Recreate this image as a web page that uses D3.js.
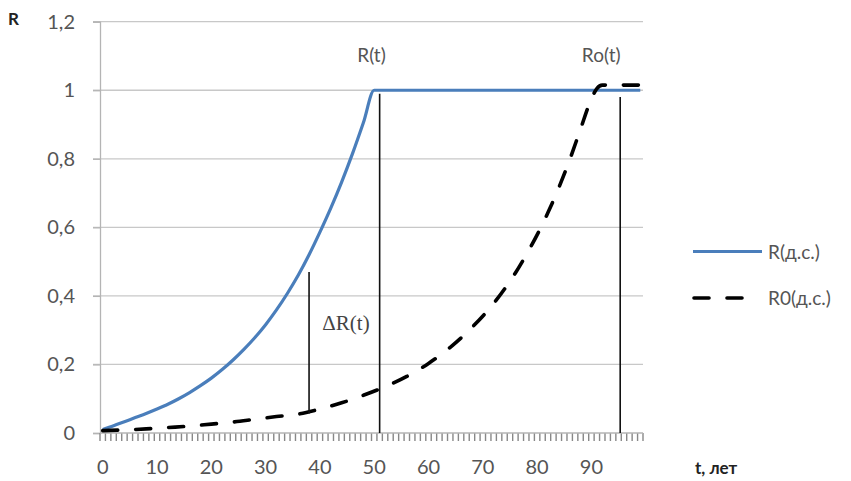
<!DOCTYPE html>
<html><head><meta charset="utf-8">
<script src="https://cdn.jsdelivr.net/npm/d3@7"></script>
<style>
html,body{margin:0;padding:0;background:#fff;}
svg{display:block;}
</style></head>
<body>
<svg id="c" width="851" height="481"></svg>
<script>
// ---- data ----
const years = d3.range(0, 101);                 // category boundaries 0..100
const xTickLabels = [0,10,20,30,40,50,60,70,80,90];
const yTicks = [0,0.2,0.4,0.6,0.8,1,1.2];

const rT = [0,2,4,6,8,10,12,14,16,18,20,22,24,26,28,30,32,34,36,38,40,42,44,46,48,50,99];
const rV = [0.010,0.021,0.033,0.045,0.057,0.070,0.084,0.100,0.118,0.138,0.160,0.185,0.213,0.244,0.278,0.316,0.359,0.407,0.460,0.520,0.586,0.656,0.732,0.815,0.905,1.0,1.0];

const r0T = [0,4,8,12,16,20,24,28,32,36,40,44,48,52,56,60,64,68,72,74,76,78,80,82,84,86,88,90,91,92,99];
const r0V = [0.007,0.009,0.012,0.016,0.020,0.026,0.032,0.040,0.048,0.055,0.070,0.088,0.110,0.135,0.165,0.203,0.250,0.308,0.378,0.420,0.467,0.520,0.578,0.643,0.716,0.797,0.887,0.975,1.005,1.015,1.015];

// annotation verticals: [t, from R, to R]
const markT    = [38, 51, 95.3];
const markFrom = [0.057, 0, 0];
const markTo   = [0.47, 0.99, 0.98];

const seriesNames = ["R(д.с.)", "R0(д.с.)"];

// ---- chart ----
const svg = d3.select("#c");
const font = "Lato, 'Open Sans', sans-serif";
const x = d3.scaleLinear().domain([-0.5, 99.5]).range([100, 643]);
const y = d3.scaleLinear().domain([0, 1.2]).range([433, 21.7]);

// gridlines
svg.append("g").selectAll("line").data(yTicks.filter(d=>d>0)).join("line")
  .attr("x1", 93).attr("x2", 643)
  .attr("y1", d=>y(d)).attr("y2", d=>y(d))
  .attr("stroke", "#c8c8c8").attr("stroke-width", 1.3);

// y axis
const ya = svg.append("g").attr("transform", "translate(100,0)")
  .call(d3.axisLeft(y).tickValues(yTicks).tickSize(7).tickPadding(18)
    .tickFormat(d => String(d).replace(".", ",")));
ya.select(".domain").attr("stroke", "#b4b4b4").attr("stroke-width", 1.3);
ya.selectAll(".tick line").attr("stroke", "#b4b4b4").attr("stroke-width", 1.3);
ya.selectAll(".tick text").attr("font-family", font).attr("font-size", 20).attr("fill", "#555");

// x axis: category tick marks
const tickG = svg.append("g").attr("class", "xticks");
years.forEach(d => {
  const xp = x(d - 0.5);
  tickG.append("line")
    .attr("x1", xp).attr("x2", xp)
    .attr("y1", 433).attr("y2", 441)
    .attr("stroke", "#888").attr("stroke-width", 1.4);
});
svg.append("line").attr("x1", 100).attr("x2", 643).attr("y1", 433).attr("y2", 433)
  .attr("stroke", "#b4b4b4").attr("stroke-width", 1.3);
svg.append("g").selectAll("text").data(xTickLabels).join("text")
  .attr("x", d=>x(d)).attr("y", 474).attr("text-anchor", "middle")
  .attr("font-family", font).attr("font-size", 20).attr("fill", "#555")
  .text(d=>d);

// axis titles
svg.append("text").attr("x", 8).attr("y", 25).attr("font-family", font)
  .attr("font-weight", "bold").attr("font-size", 17).attr("fill", "#222").text("R");
svg.append("text").attr("x", 695).attr("y", 474).attr("font-family", font)
  .attr("font-weight", "bold").attr("font-size", 17).attr("fill", "#222").text("t, лет");

// series
const line = d3.line().x(d=>x(d[0])).y(d=>y(d[1])).curve(d3.curveMonotoneX);
const rData = rT.map((t,i)=>[t, rV[i]]);
const r0Data = r0T.map((t,i)=>[t, r0V[i]]);

svg.append("path").datum(rData).attr("d", line)
  .attr("fill", "none").attr("stroke", "#4a7ebb").attr("stroke-width", 3.2)
  .attr("stroke-linejoin", "round");
svg.append("path").datum(r0Data).attr("d", line)
  .attr("fill", "none").attr("stroke", "#000").attr("stroke-width", 3.6)
  .attr("stroke-dasharray", "15,18").attr("stroke-linecap", "round");

// annotation verticals
svg.append("g").selectAll("line").data(markT).join("line")
  .attr("x1", d=>x(d)).attr("x2", d=>x(d))
  .attr("y1", (d,i)=>y(markFrom[i])).attr("y2", (d,i)=>y(markTo[i]))
  .attr("stroke", "#111").attr("stroke-width", 1.6);

// annotation labels
svg.append("text").attr("x", x(49.5)).attr("y", y(1.082)).attr("text-anchor","middle")
  .attr("font-family", font).attr("font-size", 19).attr("fill", "#555").text("R(t)");
svg.append("text").attr("x", x(91.8)).attr("y", y(1.082)).attr("text-anchor","middle")
  .attr("font-family", font).attr("font-size", 19).attr("fill", "#555").text("Ro(t)");
svg.append("text").attr("x", x(44.8)).attr("y", y(0.30)).attr("text-anchor","middle")
  .attr("font-family", "'Liberation Serif', 'DejaVu Serif', serif").attr("font-size", 21)
  .attr("fill", "#444").text("ΔR(t)");

// legend
const lg = svg.append("g");
lg.append("line").attr("x1", 693).attr("x2", 762).attr("y1", 251.5).attr("y2", 251.5)
  .attr("stroke", "#4a7ebb").attr("stroke-width", 3.2);
lg.append("line").attr("x1", 694).attr("x2", 760).attr("y1", 298).attr("y2", 298)
  .attr("stroke", "#000").attr("stroke-width", 3.6)
  .attr("stroke-dasharray", "15,18").attr("stroke-linecap", "round");
lg.selectAll("text").data(seriesNames).join("text")
  .attr("x", 768).attr("y", (d,i)=> i===0 ? 259 : 305)
  .attr("font-family", font).attr("font-size", 19).attr("fill", "#555").text(d=>d);
</script>
</body></html>
